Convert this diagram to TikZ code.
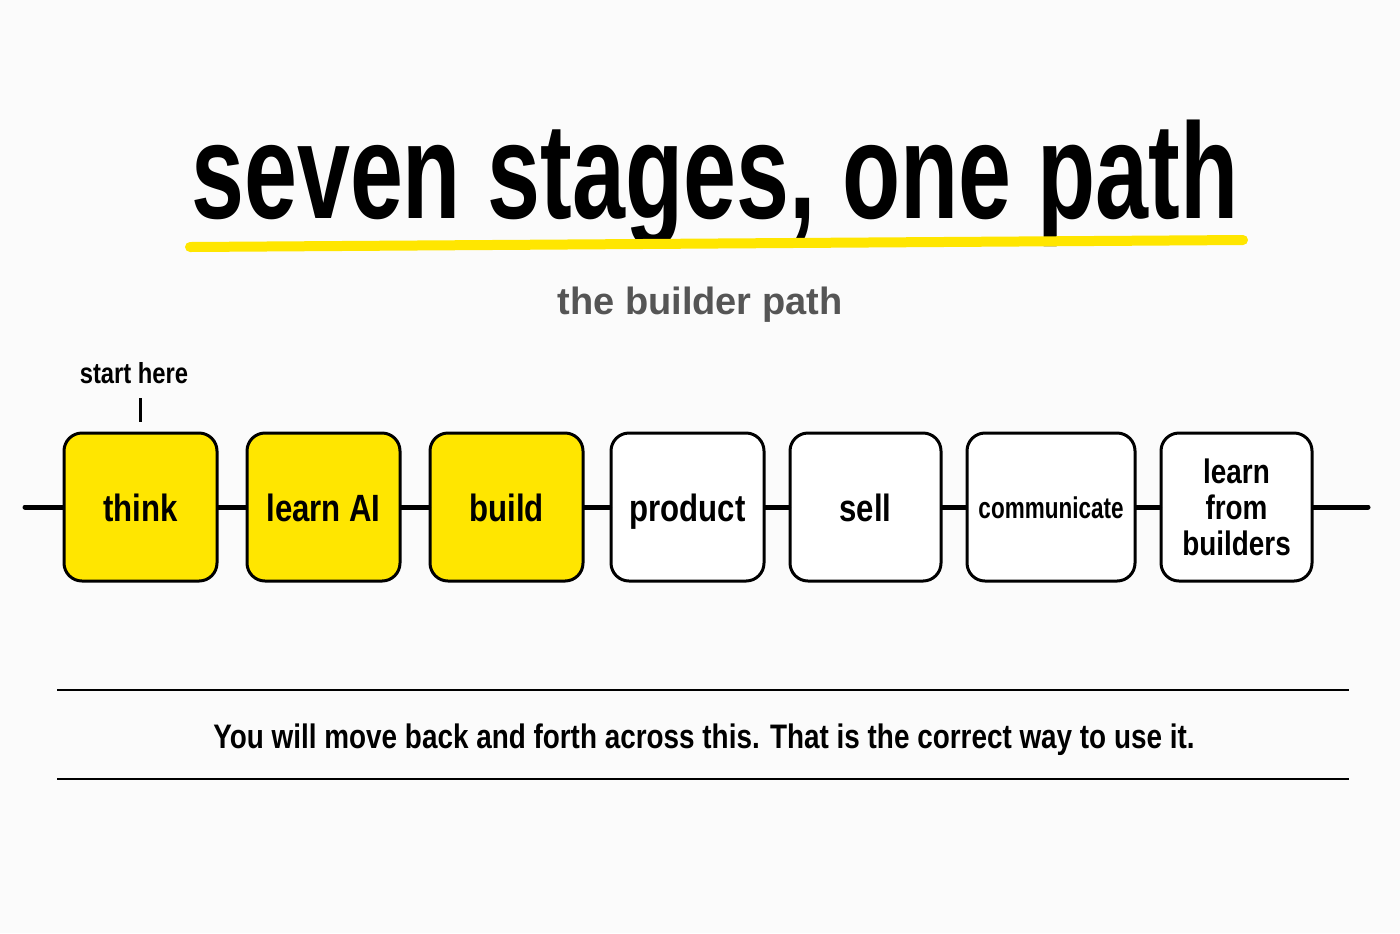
\documentclass[tikz,border=0pt]{standalone}
\usepackage{fontspec}
\setmainfont{Liberation Sans}
\newfontfamily\titlefont[FakeStretch=0.70]{Liberation Sans}
\newfontfamily\labelfont[FakeStretch=0.82]{Liberation Sans}
\newfontfamily\narrowfont[FakeStretch=0.75]{Liberation Sans}
\definecolor{hiyellow}{HTML}{FFE600}
\definecolor{subgray}{HTML}{555555}
\definecolor{paper}{HTML}{FBFBFB}
\begin{document}
\begin{tikzpicture}[x=0.5pt, y=-0.5pt,
    stagebox/.style={draw, rectangle, rounded corners=9pt, line width=1.5pt, fill=white,
        minimum width=76.5pt, minimum height=74pt, inner sep=0pt, align=center,
        text height=14pt, text depth=0pt,
        font=\labelfont\bfseries\fontsize{19}{20}\selectfont},
    hotstage/.style={stagebox, fill=hiyellow},
    pathline/.style={line width=2.5pt, line cap=round}]
    \fill[paper] (0,0) rectangle (1400,933);
    \useasboundingbox (0,0) rectangle (1400,933);

    \node (title) [anchor=base, inner sep=0pt, font=\titlefont\bfseries\fontsize{68}{70}\selectfont] at (715,218) {seven stages, one path};
    \draw[hiyellow, line width=5pt, line cap=round] (190,247) -- (1243,240);
    \node (subtitle) [anchor=base, inner sep=0pt, text=subgray, font=\bfseries\fontsize{19}{20}\selectfont] at (700,314) {the builder path};

    \node (think) [hotstage] at (140.5,507) {think};
    \node (learnai) [hotstage] at (323.5,507) {learn AI};
    \node (build) [hotstage] at (506.5,507) {build};
    \node (product) [stagebox] at (687.5,507) {product};
    \node (sell) [stagebox, minimum width=75.5pt] at (865.5,507) {sell};
    \node (communicate) [stagebox, minimum width=84pt, text height=11pt, font=\narrowfont\bfseries\fontsize{15}{16}\selectfont] at (1051,507) {communicate};
    \node (learnfrom) [stagebox, minimum width=75.5pt, text height=, text depth=, font=\labelfont\bfseries\fontsize{17}{18}\selectfont] at (1236.5,507) {learn\\from\\builders};

    \coordinate (pathstart) at (25,507);
    \coordinate (pathend) at (1368,507);
    \draw[pathline] (pathstart) -- (think);
    \draw[pathline] (think) -- (learnai);
    \draw[pathline] (learnai) -- (build);
    \draw[pathline] (build) -- (product);
    \draw[pathline] (product) -- (sell);
    \draw[pathline] (sell) -- (communicate);
    \draw[pathline] (communicate) -- (learnfrom);
    \draw[pathline] (learnfrom) -- (pathend);

    \node (starthere) [anchor=base, inner sep=0pt, font=\labelfont\bfseries\fontsize{14.5}{16}\selectfont] at (134,383) {start here};
    \coordinate (ticktop) at (140,398);
    \coordinate (tickbot) at (140,422);
    \draw[line width=1.5pt] (ticktop) -- (tickbot);

    \coordinate (rule1l) at (57,690);
    \coordinate (rule1r) at (1349,690);
    \coordinate (rule2l) at (57,779);
    \coordinate (rule2r) at (1349,779);
    \draw[line width=1pt] (rule1l) -- (rule1r);
    \draw[line width=1pt] (rule2l) -- (rule2r);
    \node (note) [anchor=base, inner sep=0pt, font=\labelfont\bfseries\fontsize{17}{18}\selectfont] at (704,748) {You will move back and forth across this. That is the correct way to use it.};
\end{tikzpicture}
\end{document}
